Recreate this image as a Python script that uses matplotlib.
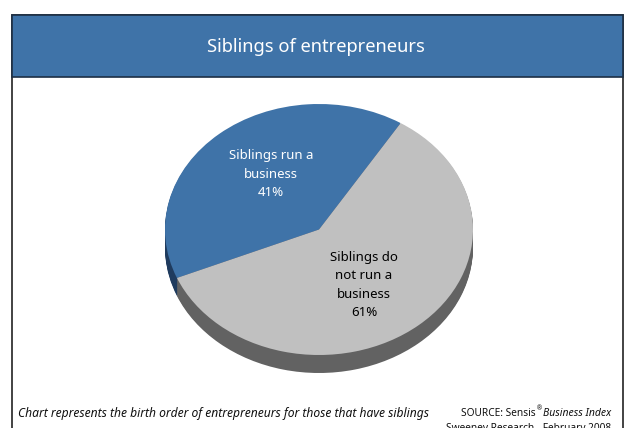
import matplotlib.pyplot as plt
from matplotlib.patches import Rectangle

W, H = 626, 428

labels = ["Siblings run a\nbusiness\n41%", "Siblings do\nnot run a\nbusiness\n61%"]
values = [41, 61]
top_colors = ["#3f73a8", "#c0c0c0"]
side_colors = ["#1f3b5e", "#626262"]

title = "Siblings of entrepreneurs"
note = "Chart represents the birth order of entrepreneurs for those that have siblings"

plt.rcParams["font.family"] = ["Noto Sans", "DejaVu Sans"]

fig = plt.figure(figsize=(W / 100, H / 100), dpi=100, facecolor="white")

# background axes in pixel coordinates, y going down like the screenshot
bg = fig.add_axes([0, 0, 1, 1])
bg.set_xlim(0, W)
bg.set_ylim(H, 0)
bg.axis("off")
bg.add_patch(Rectangle((12, 15), 611, 500, fc="white", ec="#222222", lw=1.2))
bg.add_patch(Rectangle((12, 15), 611, 62, fc="#3f73a8", ec="#1d2f45", lw=1.2))
bg.text(316, 47, title, color="white", fontsize=13.2, ha="center", va="center")

# squashed pie: radius 1 is 154 px wide and 125.5 px tall
cx, cy, rx, ry = 319, 229.5, 154, 125.5
ax = fig.add_axes([(cx - 1.25 * rx) / W, 1 - (cy + 1.25 * ry) / H, 2.5 * rx / W, 2.5 * ry / H])
ax.patch.set_alpha(0)

depth = 18
for px in range(depth, 0, -1):
    ax.pie(values, colors=side_colors, startangle=58, center=(0, -px / ry), radius=1)
wedges, _ = ax.pie(values, colors=top_colors, startangle=58, center=(0, 0), radius=1)
ax.set_aspect("auto")
ax.set_xlim(-1.25, 1.25)
ax.set_ylim(-1.25, 1.25)
ax.axis("off")

bg.set_zorder(0)
ax.set_zorder(1)

# data labels and footer drawn on top
fg = fig.add_axes([0, 0, 1, 1])
fg.set_xlim(0, W)
fg.set_ylim(H, 0)
fg.axis("off")
fg.set_zorder(2)
fg.text(271, 174, labels[0], color="white", fontsize=9.5, ha="center", va="center", linespacing=1.55)
fg.text(364, 285, labels[1], color="black", fontsize=9.5, ha="center", va="center", linespacing=1.55)

fg.text(18, 413, note, style="italic", fontsize=8.7, ha="left", va="center", color="#111111")
fg.text(611, 414, "Business Index", style="italic", fontsize=7.5, ha="right", va="center", color="#111111")
fg.text(539.5, 409, "®", fontsize=4.5, ha="center", va="center", color="#111111")
fg.text(536, 414, "SOURCE: Sensis", fontsize=7.3, ha="right", va="center", color="#111111")
fg.text(611, 428, "Sweeney Research - February 2008", fontsize=7.3, ha="right", va="center", color="#111111")

fig.savefig("out.png", dpi=100)
